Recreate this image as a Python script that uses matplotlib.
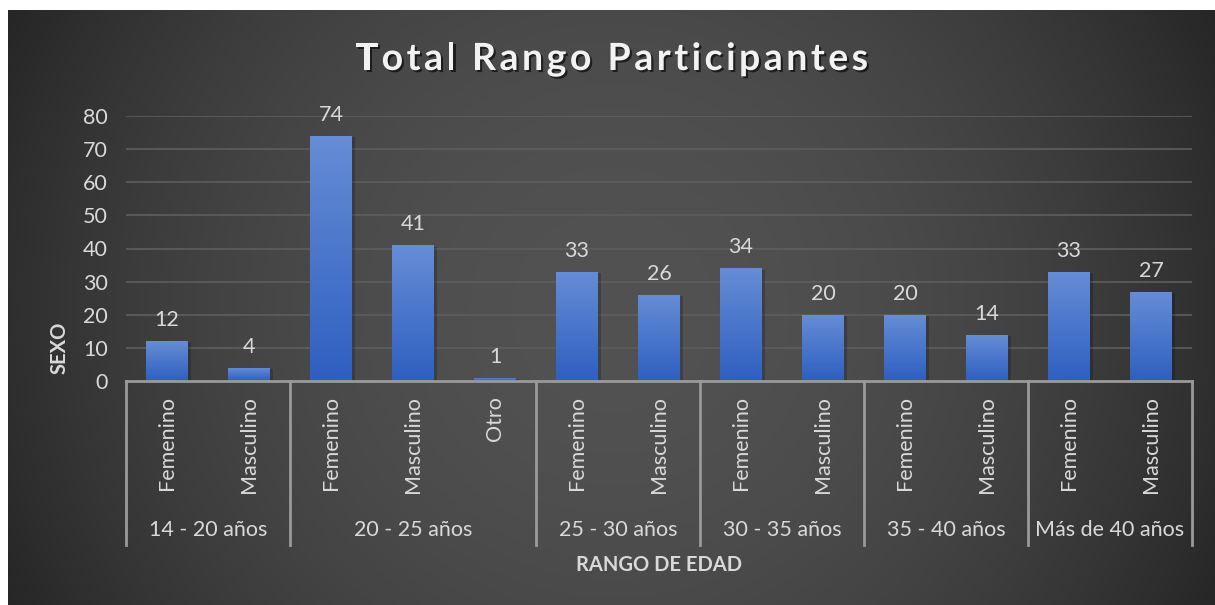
import numpy as np
import matplotlib.pyplot as plt
import matplotlib.patheffects as pe

plt.rcParams['font.family'] = ['Lato', 'DejaVu Sans']

# data
groups = ['14 - 20 años', '20 - 25 años', '25 - 30 años', '30 - 35 años',
          '35 - 40 años', 'Más de 40 años']
sexes = [['Femenino', 'Masculino'],
         ['Femenino', 'Masculino', 'Otro'],
         ['Femenino', 'Masculino'],
         ['Femenino', 'Masculino'],
         ['Femenino', 'Masculino'],
         ['Femenino', 'Masculino']]
values = [[12, 4], [74, 41, 1], [33, 26], [34, 20], [20, 14], [33, 27]]
yticks = [0, 10, 20, 30, 40, 50, 60, 70, 80]
title = 'Total Rango Participantes'

labels = [s for grp in sexes for s in grp]
vals = [v for grp in values for v in grp]
x = np.arange(len(vals))

W, H = 1215, 605
fs = 15.5
txt_c = '#d9d9d9'
fig = plt.figure(figsize=(W / 100, H / 100), dpi=100)
fig.patch.set_facecolor('white')

# radial gradient background
bg = fig.add_axes([8 / W, 0, 1 - 8 / W, 1 - 10 / H])
bg.set_axis_off()
gy, gx = np.mgrid[0:595, 0:1207]
r = np.hypot(gx - 605, gy - 300) / 680.0
c = (82 - 45 * r ** 2) / 255.0
c = np.clip(c, 0.12, 1)
bg.imshow(np.dstack([c, c, c]), aspect='auto', interpolation='bilinear')

ax_l, ax_r = 126 / W, 1192 / W
ax_b, ax_t = (H - 381) / H, (H - 116) / H
ax = fig.add_axes([ax_l, ax_b, ax_r - ax_l, ax_t - ax_b])
ax.set_facecolor('none')
pxu = (381 - 116) / 80.0  # pixels per data unit

for sp in ax.spines.values():
    sp.set_visible(False)
ax.set_yticks(yticks)
ax.tick_params(axis='y', length=0, labelsize=fs, labelcolor=txt_c, pad=13)
ax.set_xticks([])
for t in yticks[1:]:
    ax.axhline(t, color='#5e5e5e', lw=1.2, zorder=0)

# bars with gradient fill and soft shadow
bw = 0.51
bars = ax.bar(x, vals, width=bw, color='#4472c4', zorder=2,
              path_effects=[pe.SimplePatchShadow(offset=(2, -1), shadow_rgbFace='black', alpha=0.2),
                            pe.Normal()])
grad = np.linspace(0, 1, 256).reshape(-1, 1)
top = np.array([0x66, 0x8d, 0xd5]) / 255
bot = np.array([0x2e, 0x5f, 0xc1]) / 255
gimg = top[None, None, :] * (1 - grad[..., None]) + bot[None, None, :] * grad[..., None]
for b, xi, v in zip(bars, x, vals):
    im = ax.imshow(gimg, extent=(xi - bw / 2, xi + bw / 2, 0, v), aspect='auto',
                   zorder=3, interpolation='bilinear')
    im.set_clip_path(b)
    ax.annotate(str(v), (xi, v), xytext=(0, 21), textcoords='offset pixels',
                ha='center', va='center', fontsize=fs, color=txt_c, zorder=4)
ax.set_xlim(-0.5, len(vals) - 0.5)
ax.set_ylim(0, 80)

# multi-level category axis
line_c = '#9a9a9a'
ax.plot([-0.5, len(vals) - 0.5], [0, 0], color=line_c, lw=2, zorder=5, clip_on=False)
for xi, lab in zip(x, labels):
    ax.text(xi, -15 / pxu, lab, rotation=90, ha='center', va='top',
            fontsize=fs, color=txt_c)
start = 0
bounds = [-0.5]
for g, grp in zip(groups, sexes):
    end = start + len(grp)
    ax.text((start + end - 1) / 2, -149 / pxu, g, ha='center', va='center',
            fontsize=fs, color=txt_c)
    bounds.append(end - 0.5)
    start = end
for bx in bounds:
    ax.plot([bx, bx], [0, -164 / pxu], color=line_c, lw=2, clip_on=False)

ax.text((len(vals) - 1) / 2, -184 / pxu, 'RANGO DE EDAD', ha='center', va='center',
        fontsize=14.5, fontweight='bold', color=txt_c)
fig.text(60 / W, (H - 348) / H, 'SEXO', rotation=90, ha='center', va='center',
         fontsize=14.5, fontweight='bold', color=txt_c)

# title with extra letter spacing, drawn glyph by glyph
renderer = fig.canvas.get_renderer()
tkw = dict(fontsize=27, fontweight='bold', color='#f2f2f2', va='center', ha='left',
           path_effects=[pe.SimplePatchShadow(offset=(1.5, -1.5), shadow_rgbFace='black', alpha=0.6),
                         pe.Normal()])
probe = fig.text(0, 0, title, **tkw)
full_w = probe.get_window_extent(renderer).width
spacing = 3.5
x0 = 612 - (full_w + spacing * (len(title) - 1)) / 2
for i, ch in enumerate(title):
    if i:
        probe.set_text(title[:i])
        off = probe.get_window_extent(renderer).width
    else:
        off = 0
    fig.text((x0 + off + i * spacing) / W, (H - 59) / H, ch, **tkw)
probe.remove()

fig.savefig('out.png', dpi=100)
